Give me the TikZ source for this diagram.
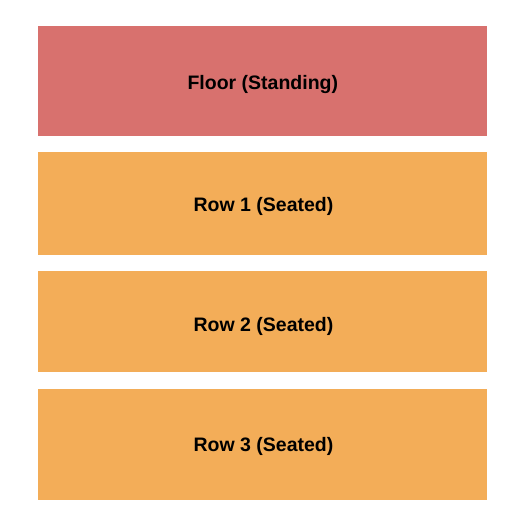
\documentclass[tikz,border=0pt]{standalone}
\usepackage{fontspec}
\setmainfont{Liberation Sans}
\definecolor{floorc}{HTML}{D8716E}
\definecolor{seatc}{HTML}{F3AD58}
\begin{document}
\begin{tikzpicture}[x=1pt,y=-1pt,
  sect/.style={inner sep=0pt,anchor=base,font=\bfseries\fontsize{19.5}{23}\selectfont,text=black}]
\useasboundingbox (0,0) rectangle (525,525);
\fill[white] (0,0) rectangle (525,525);
\fill[floorc] (38,26) rectangle (487,136);
\fill[seatc] (38,152) rectangle (487,255);
\fill[seatc] (38,271) rectangle (487,372);
\fill[seatc] (38,389) rectangle (487,500);
\node[sect] (floor) at (262.8,89.3) {Floor (Standing)};
\node[sect] (row1) at (263.5,211.5) {Row 1 (Seated)};
\node[sect] (row2) at (263.5,331) {Row 2 (Seated)};
\node[sect] (row3) at (263.5,451.5) {Row 3 (Seated)};
\end{tikzpicture}
\end{document}
